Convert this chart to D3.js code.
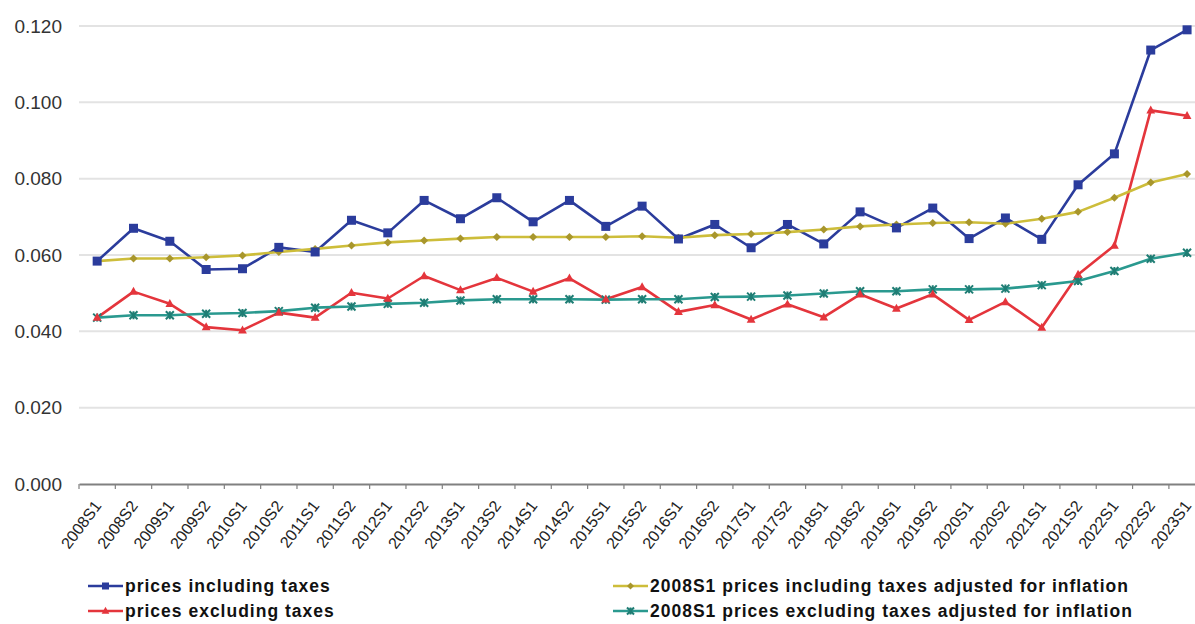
<!DOCTYPE html>
<html>
<head>
<meta charset="utf-8">
<script src="https://cdn.jsdelivr.net/npm/d3@7"></script>
<style>
  html, body { margin: 0; padding: 0; background: #fff; }
  svg { display: block; font-family: "Liberation Sans", Arial, sans-serif; }
</style>
</head>
<body>
<svg id="chart" width="1195" height="624"></svg>
<script>
const periods = ["2008S1","2008S2","2009S1","2009S2","2010S1","2010S2","2011S1","2011S2","2012S1","2012S2",
  "2013S1","2013S2","2014S1","2014S2","2015S1","2015S2","2016S1","2016S2","2017S1","2017S2",
  "2018S1","2018S2","2019S1","2019S2","2020S1","2020S2","2021S1","2021S2","2022S1","2022S2","2023S1"];

const pricesInclTaxes = [0.0584,0.0670,0.0636,0.0562,0.0564,0.0620,0.0608,0.0691,0.0658,0.0743,
  0.0695,0.0750,0.0687,0.0743,0.0675,0.0728,0.0642,0.0680,0.0619,0.0680,
  0.0629,0.0713,0.0671,0.0723,0.0643,0.0697,0.0641,0.0784,0.0865,0.1137,0.1190];

const pricesExclTaxes = [0.0436,0.0504,0.0472,0.0411,0.0403,0.0449,0.0436,0.0501,0.0486,0.0545,
  0.0508,0.0540,0.0504,0.0539,0.0484,0.0516,0.0451,0.0469,0.0431,0.0471,
  0.0437,0.0497,0.0460,0.0497,0.0430,0.0477,0.0410,0.0549,0.0625,0.0979,0.0965];

const inclAdjInflation = [0.0584,0.0591,0.0591,0.0594,0.0599,0.0608,0.0616,0.0625,0.0633,0.0638,
  0.0643,0.0647,0.0647,0.0647,0.0647,0.0649,0.0645,0.0652,0.0655,0.0660,
  0.0667,0.0675,0.0680,0.0684,0.0686,0.0682,0.0695,0.0713,0.0750,0.0790,0.0812];

const exclAdjInflation = [0.0436,0.0442,0.0442,0.0446,0.0448,0.0453,0.0462,0.0465,0.0472,0.0475,
  0.0481,0.0484,0.0484,0.0484,0.0483,0.0484,0.0484,0.0490,0.0491,0.0494,
  0.0499,0.0505,0.0505,0.0510,0.0510,0.0512,0.0521,0.0532,0.0558,0.0590,0.0606];

const yTicks = [0, 0.02, 0.04, 0.06, 0.08, 0.10, 0.12];

const seriesNames = ["prices including taxes", "prices excluding taxes",
  "2008S1 prices including taxes adjusted for inflation", "2008S1 prices excluding taxes adjusted for inflation"];

const series = [
  {name: seriesNames[0], values: pricesInclTaxes, line: "#2b3c9c", mark: "#2b3c9c", shape: "square"},
  {name: seriesNames[1], values: pricesExclTaxes, line: "#e4353c", mark: "#e4353c", shape: "triangle"},
  {name: seriesNames[2], values: inclAdjInflation, line: "#cdbd3a", mark: "#a8962c", shape: "diamond"},
  {name: seriesNames[3], values: exclAdjInflation, line: "#2a998f", mark: "#1f7d74", shape: "cross"}
];

const svg = d3.select("#chart");
const left = 79, bandW = 36.33;
const x = d3.scaleBand().domain(periods).range([left, left + bandW * periods.length]).padding(0);
const y = d3.scaleLinear().domain([0, 0.12]).range([484, 26]);

// grid
svg.append("g").selectAll("line").data(yTicks.filter(d => d > 0)).join("line")
  .attr("x1", left).attr("x2", 1195)
  .attr("y1", d => y(d)).attr("y2", d => y(d))
  .attr("stroke", "#e3e3e3").attr("stroke-width", 2);

// y axis labels
const yAxis = d3.axisLeft(y).tickValues(yTicks).tickFormat(d3.format(".3f")).tickSize(0).tickPadding(0);
const gy = svg.append("g").attr("transform", "translate(62,0)").call(yAxis);
gy.select(".domain").remove();
gy.selectAll("text").attr("font-size", 19).attr("fill", "#333")
  .attr("font-family", "'Liberation Sans', Arial, sans-serif");

// x axis
const xAxis = d3.axisBottom(x).tickSize(0);
const gx = svg.append("g").attr("transform", `translate(0,${y(0)})`).call(xAxis);
gx.select(".domain").attr("stroke", "#808080").attr("stroke-width", 2);
gx.selectAll(".tick line").remove();
// tick marks at band boundaries
svg.append("g").selectAll("line").data(periods).join("line")
  .attr("x1", d => x(d)).attr("x2", d => x(d))
  .attr("y1", y(0)).attr("y2", y(0) + 5)
  .attr("stroke", "#808080").attr("stroke-width", 1.2);
gx.selectAll(".tick text")
  .attr("font-size", 16).attr("fill", "#222")
  .attr("font-family", "'Liberation Sans', Arial, sans-serif")
  .attr("text-anchor", "end")
  .attr("dy", 0).attr("y", 0)
  .attr("transform", "translate(5,22) rotate(-53)");

// lines
const cx = d => x(d) + x.bandwidth() / 2;
const lineGen = vals => d3.line().x((d, i) => cx(periods[i])).y(d => y(d))(vals);

const gLines = svg.append("g");
function drawMarker(g, shape, color, px, py, s) {
  if (shape === "square") {
    g.append("rect").attr("x", px - s/2).attr("y", py - s/2).attr("width", s).attr("height", s).attr("fill", color);
  } else if (shape === "triangle") {
    const h = s;
    g.append("path").attr("d", `M${px},${py - h*0.6}L${px + h*0.55},${py + h*0.4}L${px - h*0.55},${py + h*0.4}Z`).attr("fill", color);
  } else if (shape === "diamond") {
    g.append("path").attr("d", `M${px},${py - s/2}L${px + s/2},${py}L${px},${py + s/2}L${px - s/2},${py}Z`).attr("fill", color);
  } else if (shape === "cross") {
    const r = s/2;
    g.append("path").attr("d", `M${px - r},${py - r}L${px + r},${py + r}M${px - r},${py + r}L${px + r},${py - r}M${px},${py-r}L${px},${py+r}`)
      .attr("stroke", color).attr("stroke-width", 2).attr("fill", "none");
  }
}

series.forEach(s => {
  gLines.append("path").attr("d", lineGen(s.values)).attr("fill", "none")
    .attr("stroke", s.line).attr("stroke-width", 2.6).attr("stroke-linejoin", "round");
});
const drawOrder = [2, 3, 1, 0];
drawOrder.forEach(k => {
  const s = series[k];
  const gm = svg.append("g");
  const size = s.shape === "square" ? 9 : 8;
  s.values.forEach((v, i) => drawMarker(gm, s.shape, s.mark, cx(periods[i]), y(v), size));
});

// legend
const legendPos = [
  {x: 88, y: 586}, {x: 88, y: 611}, {x: 613, y: 586}, {x: 613, y: 611}
];
series.forEach((s, i) => {
  const p = legendPos[i];
  const g = svg.append("g");
  g.append("line").attr("x1", p.x).attr("x2", p.x + 35).attr("y1", p.y).attr("y2", p.y)
    .attr("stroke", s.line).attr("stroke-width", 2.6);
  drawMarker(g, s.shape, s.mark, p.x + 17.5, p.y, 7);
  g.append("text").attr("x", p.x + 37).attr("y", p.y).attr("dy", "0.35em")
    .attr("font-size", 17.5).attr("font-weight", "bold").attr("fill", "#111")
    .attr("letter-spacing", 1.0)
    .text(s.name);
});
</script>
</body>
</html>
